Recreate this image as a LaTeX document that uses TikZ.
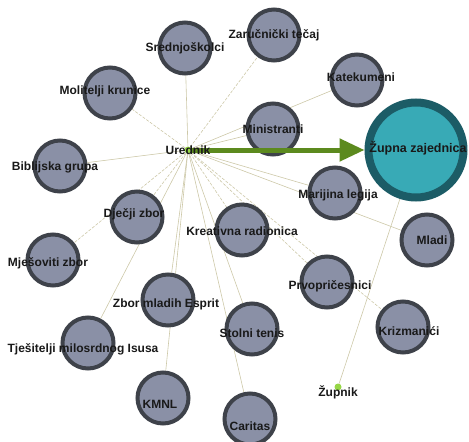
\documentclass[tikz,border=0pt]{standalone}
\usepackage{fontspec}
\setmainfont{Liberation Sans}
\usetikzlibrary{arrows.meta, backgrounds, positioning}
\definecolor{grpfill}{RGB}{138,144,166}
\definecolor{grpedge}{RGB}{62,66,74}
\definecolor{parfill}{RGB}{56,170,182}
\definecolor{paredge}{RGB}{28,92,102}
\definecolor{linkcol}{RGB}{205,200,168}
\definecolor{arrowcol}{RGB}{92,138,30}
\definecolor{dotcol}{RGB}{150,214,70}
\pgfdeclarelayer{front}
\pgfsetlayers{background,main,front}

\begin{document}
\begin{tikzpicture}[x=1pt, y=-1pt,
    grp/.style={circle, draw=grpedge, line width=4pt, fill=grpfill, minimum size=51pt, inner sep=0pt},
    parish/.style={circle, draw=paredge, line width=8pt, fill=parfill, minimum size=95pt, inner sep=0pt},
    pers/.style={circle, fill=dotcol, minimum size=7pt, inner sep=0pt},
    lbl/.style={font=\bfseries\fontsize{12}{14}\selectfont, text=black!90, inner sep=0pt},
    link/.style={draw=linkcol, line width=0.6pt},
    dlink/.style={link, dash pattern=on 3pt off 1.5pt},
    main/.style={draw=arrowcol, line width=5pt, -{Triangle[length=25pt, width=22pt]}}
]
\useasboundingbox (0,0) rectangle (469,442);

% Editor and parish
\node[pers] (Urednik) at (188,150) {};
\node[parish, label={[lbl, font=\bfseries\fontsize{12.5}{15}\selectfont, xshift=2pt, yshift=2pt]center:Župna zajednica}] (Zupna) at (416,150) {};
\node[pers, label={[lbl, yshift=-5pt]center:Župnik}] (Zupnik) at (338,387) {};

% Groups round the editor
\node[grp, label={[lbl]center:Srednjoškolci}] (Srednjoskolci) at (185,48) {};
\node[grp, label={[lbl]center:Zaručnički tečaj}] (Zarucnicki) at (274,35) {};
\node[grp, label={[lbl, xshift=4pt, yshift=3pt]center:Katekumeni}] (Katekumeni) at (357,80) {};
\node[grp, label={[lbl, xshift=-5pt, yshift=2pt]center:Molitelji krunice}] (Molitelji) at (110,93) {};
\node[grp, label={[lbl]center:Ministranti}] (Ministranti) at (273,129) {};
\node[grp, label={[lbl, xshift=-5pt, yshift=-1pt]center:Biblijska grupa}] (Biblijska) at (60,166) {};
\node[grp, label={[lbl, xshift=-3pt, yshift=3pt]center:Dječji zbor}] (DjecjiZbor) at (137,217) {};
\node[grp, label={[lbl, yshift=-1pt]center:Kreativna radionica}] (Kreativna) at (242,230) {};
\node[grp, label={[lbl, xshift=3pt, yshift=-2pt]center:Marijina legija}] (Marijina) at (335,193) {};
\node[grp, label={[lbl, xshift=5pt]center:Mladi}] (Mladi) at (427,240) {};
\node[grp, label={[lbl, xshift=-5pt, yshift=-3pt]center:Mješoviti zbor}] (Mjesoviti) at (53,260) {};
\node[grp, label={[lbl, xshift=3pt, yshift=-4pt]center:Prvopričesnici}] (Prvopricesnici) at (327,282) {};
\node[grp, label={[lbl, xshift=-2pt, yshift=-4pt]center:Zbor mladih Esprit}] (Esprit) at (168,300) {};
\node[grp, label={[lbl, xshift=6pt, yshift=-4pt]center:Krizmanići}] (Krizmanici) at (403,327) {};
\node[grp, label={[lbl, yshift=-4pt]center:Stolni tenis}] (StolniTenis) at (252,329) {};
\node[grp, label={[lbl, xshift=-5pt, yshift=-6pt]center:Tješitelji milosrdnog Isusa}] (Tjesitelji) at (88,343) {};
\node[grp, label={[lbl, xshift=-3pt, yshift=-6pt]center:KMNL}] (KMNL) at (163,398) {};
\node[grp, label={[lbl, yshift=-7pt]center:Caritas}] (Caritas) at (250,419) {};

% Links
\begin{pgfonlayer}{background}
\draw[link] (Urednik) -- (Srednjoskolci);
\draw[dlink] (Urednik) -- (Zarucnicki);
\draw[link] (Urednik) -- (Katekumeni);
\draw[dlink] (Urednik) -- (Molitelji);
\draw[link] (Urednik) -- (Ministranti);
\draw[link] (Urednik) -- (Biblijska);
\draw[dlink] (Urednik) -- (DjecjiZbor);
\draw[dlink] (Urednik) -- (Kreativna);
\draw[link] (Urednik) -- (Marijina);
\draw[link] (Urednik) -- (Mladi);
\draw[dlink] (Urednik) -- (Mjesoviti);
\draw[dlink] (Urednik) -- (Prvopricesnici);
\draw[link] (Urednik) -- (Esprit);
\draw[dlink] (Urednik) -- (Krizmanici);
\draw[link] (Urednik) -- (StolniTenis);
\draw[link] (Urednik) -- (Tjesitelji);
\draw[link] (Urednik) -- (KMNL);
\draw[link] (Urednik) -- (Caritas);
\draw[link] (Zupnik) -- (Zupna);
\end{pgfonlayer}

\draw[main] (Urednik) -- (Zupna);
\begin{pgfonlayer}{front}
\node[lbl] (UrednikText) at (Urednik) {Urednik};
\end{pgfonlayer}

\end{tikzpicture}
\end{document}
